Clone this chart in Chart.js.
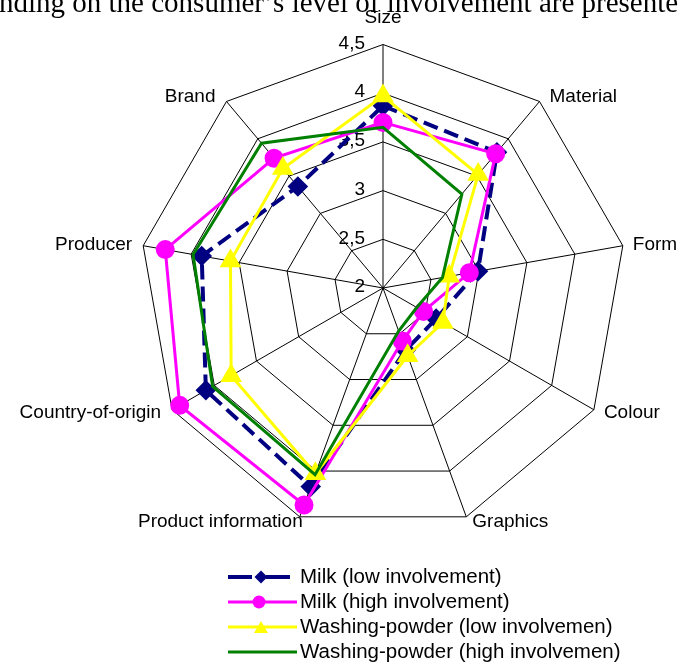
<!DOCTYPE html>
<html>
<head>
<meta charset="utf-8">
<script src="https://cdn.jsdelivr.net/npm/chart.js@4/dist/chart.umd.min.js"></script>
<style>
  body { margin: 0; background: #fff; }
  #wrap { position: relative; width: 678px; height: 662px; overflow: hidden; }
  #heading { position: absolute; left: -1px; top: -12px; white-space: nowrap; font-family: "Liberation Serif", "Times New Roman", serif; font-size: 29px; line-height: 29px; color: #000; }
  canvas { position: absolute; left: 0; top: 0; }
</style>
</head>
<body>
<div id="wrap">
  <canvas id="radar" width="678" height="662"></canvas>
  <div id="heading">nding on the consumer’s level of involvement are presented</div>
</div>
<script>
const categories = ['Size', 'Material', 'Form', 'Colour', 'Graphics', 'Product information', 'Country-of-origin', 'Producer', 'Brand'];

const milkLow = [3.87, 3.82, 2.99, 2.63, 2.68, 4.17, 4.10, 3.89, 3.36];
const milkHigh = [3.70, 3.80, 2.90, 2.48, 2.58, 4.37, 4.41, 4.27, 3.74];
const powderLow = [3.97, 3.52, 2.69, 2.71, 2.74, 4.03, 3.80, 3.59, 3.60];
const powderHigh = [3.65, 3.26, 2.62, 2.40, 2.47, 4.04, 4.02, 3.98, 3.94];

const seriesNames = ['Milk (low involvement)', 'Milk (high involvement)', 'Washing-powder (low involvemen)', 'Washing-powder (high involvemen)'];

const tickValues = [2, 2.5, 3, 3.5, 4, 4.5];
const tickLabels = ['2', '2,5', '3', '3,5', '4', '4,5'];

const FONT = '"Liberation Sans", Arial, sans-serif';

// labels, ticks and the legend are painted here so they sit like the original
const radarText = {
  id: 'radarText',
  beforeDatasetsDraw(chart) {
    const scale = chart.scales.r;
    const ctx = chart.ctx;
    ctx.save();
    ctx.font = '19px ' + FONT;
    ctx.fillStyle = '#000';
    ctx.textAlign = 'right';
    ctx.textBaseline = 'middle';
    tickValues.forEach(function(v, i) {
      const d = scale.getDistanceFromCenterForValue(v);
      ctx.fillText(tickLabels[i], scale.xCenter - 18, scale.yCenter - d - 1);
    });
    ctx.restore();
  },
  afterDraw(chart) {
    const scale = chart.scales.r;
    const ctx = chart.ctx;
    ctx.save();
    ctx.font = '19px ' + FONT;
    ctx.fillStyle = '#000';
    ctx.textBaseline = 'middle';
    categories.forEach(function(label, i) {
      const p = scale.getPointPosition(i, scale.drawingArea);
      const a = scale.getIndexAngle(i);
      const s = Math.sin(a), c = Math.cos(a);
      let x = p.x, y = p.y;
      if (Math.abs(s) < 0.01) {
        ctx.textAlign = 'center';
        y = p.y - 27;
      } else if (Math.abs(s) < 0.5) {
        ctx.textAlign = s > 0 ? 'left' : 'right';
        x = s > 0 ? p.x + 6 : p.x + 3;
        y = p.y + 5;
      } else {
        ctx.textAlign = s > 0 ? 'left' : 'right';
        x = s > 0 ? p.x + 10 : p.x - 11;
        y = p.y - 6 * c;
      }
      ctx.fillText(label, x, y);
    });

    // legend
    ctx.font = '20.5px ' + FONT;
    ctx.textAlign = 'left';
    chart.data.datasets.forEach(function(ds, i) {
      const y = 577 + i * 25;
      ctx.save();
      ctx.strokeStyle = ds.borderColor;
      ctx.lineWidth = ds.borderWidth;
      if (ds.borderDash) ctx.setLineDash([24, 14]);
      ctx.beginPath();
      ctx.moveTo(228, y);
      ctx.lineTo(ds.borderDash ? 290 : 297, y);
      ctx.stroke();
      ctx.restore();
      const mx = 261;
      ctx.fillStyle = ds.borderColor;
      ctx.beginPath();
      if (ds.pointStyle === 'rectRot') {
        const r = 6.5;
        ctx.moveTo(mx, y - r); ctx.lineTo(mx + r, y); ctx.lineTo(mx, y + r); ctx.lineTo(mx - r, y);
        ctx.closePath(); ctx.fill();
      } else if (ds.pointStyle === 'circle' && ds.pointRadius > 0) {
        ctx.arc(mx - 2, y, 6.5, 0, Math.PI * 2); ctx.fill();
      } else if (ds.pointStyle === 'triangle') {
        const r = 8;
        for (let k = 0; k < 3; k++) {
          const t = k * 2 * Math.PI / 3;
          const px = mx + Math.sin(t) * r, py = y + 2 - Math.cos(t) * r;
          if (k === 0) ctx.moveTo(px, py); else ctx.lineTo(px, py);
        }
        ctx.closePath(); ctx.fill();
      }
      ctx.fillStyle = '#000';
      ctx.fillText(ds.label, 300, y);
    });
    ctx.restore();
  }
};

const data = {
  labels: categories,
  datasets: [{
    label: seriesNames[0],
    data: milkLow,
    borderColor: '#000080',
    backgroundColor: '#000080',
    borderWidth: 4,
    borderDash: [15, 7],
    pointStyle: 'rectRot',
    pointRadius: 7.5,
    pointBackgroundColor: '#000080',
    pointBorderColor: '#000080',
    fill: false,
    order: 4
  }, {
    label: seriesNames[1],
    data: milkHigh,
    borderColor: '#ff00ff',
    backgroundColor: '#ff00ff',
    borderWidth: 3,
    pointStyle: 'circle',
    pointRadius: 8,
    pointBackgroundColor: '#ff00ff',
    pointBorderColor: '#ff00ff',
    fill: false,
    order: 3
  }, {
    label: seriesNames[2],
    data: powderLow,
    borderColor: '#ffff00',
    backgroundColor: '#ffff00',
    borderWidth: 3,
    pointStyle: 'triangle',
    pointRadius: 9.5,
    pointBackgroundColor: '#ffff00',
    pointBorderColor: '#ffff00',
    fill: false,
    order: 2
  }, {
    label: seriesNames[3],
    data: powderHigh,
    borderColor: '#008000',
    backgroundColor: '#008000',
    borderWidth: 3,
    pointStyle: 'circle',
    pointRadius: 0,
    fill: false,
    order: 1
  }]
};

const config = {
  type: 'radar',
  data: data,
  options: {
    responsive: false,
    animation: false,
    elements: { line: { tension: 0 } },
    plugins: {
      legend: { display: false },
      tooltip: { enabled: false }
    },
    scales: {
      r: {
        min: 2,
        max: 4.5,
        ticks: { stepSize: 0.5, display: false },
        grid: { color: '#000', lineWidth: 1, circular: false },
        angleLines: { color: '#000', lineWidth: 1 },
        pointLabels: { display: false },
        afterFit: function(scale) {
          scale.xCenter = 383;
          scale.yCenter = 288;
          scale.drawingArea = 243.5;
        }
      }
    }
  },
  plugins: [radarText]
};

const myChart = new Chart(document.getElementById('radar'), config);
</script>
</body>
</html>
